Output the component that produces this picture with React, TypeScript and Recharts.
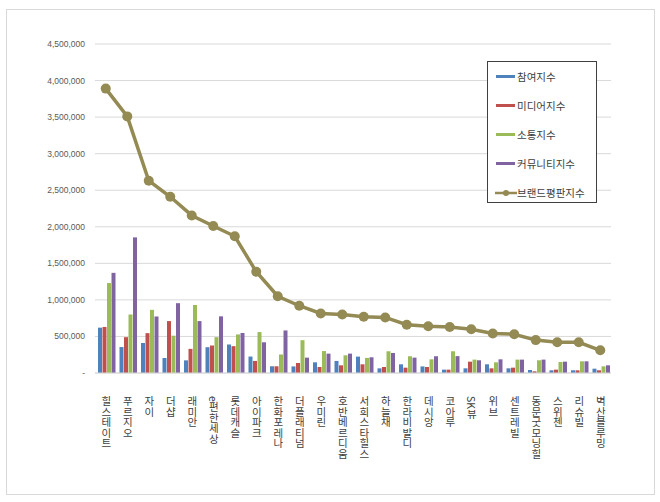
import { ComposedChart, Bar, Line, XAxis, YAxis, CartesianGrid } from 'recharts';

const categories = [
  '힐스테이트', '푸르지오', '자이', '더샵', '래미안', 'e편한세상', '롯데캐슬', '아이파크',
  '한화포레나', '더플래티넘', '우미린', '호반베르디움', '서희스타힐스', '하늘채', '한라비발디', '데시앙',
  '코아루', 'SK뷰', '위브', '센트레빌', '동문굿모닝힐', '스위첸', '리슈빌', '벽산블루밍',
];

const participation = [
  620000, 355000, 410000, 205000, 173000, 353000, 390000, 225000,
  92000, 90000, 146000, 165000, 224000, 64000, 119000, 90000,
  46000, 64000, 119000, 64000, 41000, 37000, 37000, 59000,
];

const media = [
  630000, 490000, 545000, 710000, 330000, 376000, 367000, 165000,
  92000, 137000, 82000, 105000, 119000, 82000, 73000, 82000,
  46000, 155000, 64000, 73000, 23000, 46000, 37000, 37000,
];

const communication = [
  1230000, 800000, 864000, 510000, 930000, 490000, 528000, 560000,
  253000, 449000, 300000, 242000, 206000, 297000, 229000, 187000,
  297000, 183000, 146000, 183000, 174000, 151000, 160000, 91000,
];

const community = [
  1370000, 1855000, 773000, 955000, 710000, 775000, 547000, 420000,
  582000, 210000, 265000, 265000, 215000, 274000, 210000, 229000,
  231000, 174000, 187000, 183000, 183000, 155000, 160000, 105000,
];

const brand = [
  3890000, 3510000, 2630000, 2410000, 2155000, 2010000, 1870000, 1385000,
  1050000, 920000, 815000, 800000, 770000, 760000, 660000, 640000,
  630000, 598000, 540000, 530000, 450000, 420000, 420000, 310000,
];

const yTicks = [0, 500000, 1000000, 1500000, 2000000, 2500000, 3000000, 3500000, 4000000, 4500000];

const SERIES = [
  { key: 'participation', name: '참여지수', color: '#4F81BD' },
  { key: 'media', name: '미디어지수', color: '#C0504D' },
  { key: 'communication', name: '소통지수', color: '#9BBB59' },
  { key: 'community', name: '커뮤니티지수', color: '#8064A2' },
];
const LINE_COLOR = '#948A54';
const FONT = '"Noto Sans CJK KR", "Noto Sans", sans-serif';

const data = categories.map((name, i) => ({
  name,
  participation: participation[i],
  media: media[i],
  communication: communication[i],
  community: community[i],
  brand: brand[i],
}));

// stacked vertical labels like Excel's vertical text
const CategoryTick = ({ x, y, payload }: any) => (
  <text
    x={x + 0.5}
    y={y + 15}
    textAnchor="start"
    fontSize={10.5}
    fill="#404040"
    fontFamily={FONT}
    style={{ writingMode: 'vertical-rl' }}
  >
    {payload.value}
  </text>
);

// legend drawn outside the chart so it doesn't eat plot space
const LegendBox = () => (
  <div
    style={{
      position: 'absolute',
      left: 487,
      top: 61,
      width: 110,
      height: 142,
      border: '1px solid #404040',
      background: '#fff',
      fontFamily: FONT,
      fontSize: 10.5,
      color: '#404040',
      boxSizing: 'border-box',
    }}
  >
    {SERIES.map((s) => (
      <div key={s.key} style={{ display: 'flex', alignItems: 'center', height: 29 }}>
        <span style={{ display: 'inline-block', width: 19, height: 3, background: s.color, marginLeft: 8, marginRight: 2 }} />
        <span>{s.name}</span>
      </div>
    ))}
    <div style={{ display: 'flex', alignItems: 'center', height: 29 }}>
      <svg width={22} height={8} style={{ marginLeft: 7 }}>
        <line x1={0} y1={4} x2={22} y2={4} stroke={LINE_COLOR} strokeWidth={2.5} />
        <circle cx={11} cy={4} r={3} fill={LINE_COLOR} />
      </svg>
      <span>브랜드평판지수</span>
    </div>
  </div>
);

const App = () => (
  <div style={{ position: 'absolute', left: 0, top: 0, width: 660, height: 502, background: '#fff' }}>
    <div
      style={{
        position: 'absolute',
        left: 6,
        top: 9,
        width: 647,
        height: 484,
        border: '1px solid #d9d9d9',
      }}
    />
    <ComposedChart
      width={660}
      height={502}
      data={data}
      margin={{ top: 44, right: 49, left: 0, bottom: 0 }}
      barCategoryGap={3}
      barGap={0.5}
    >
      <CartesianGrid vertical={false} stroke="#d9d9d9" />
      <XAxis
        dataKey="name"
        interval={0}
        height={129}
        tickLine={false}
        axisLine={{ stroke: '#d9d9d9' }}
        tick={<CategoryTick />}
      />
      <YAxis
        width={95}
        domain={[0, 4500000]}
        ticks={yTicks}
        axisLine={false}
        tickLine={false}
        tickMargin={4}
        tick={{ fontSize: 8.5, fill: '#595959', fontFamily: '"Liberation Sans", Arial, sans-serif' }}
        tickFormatter={(v: number) => (v === 0 ? '-' : v.toLocaleString('en-US'))}
      />
      {SERIES.map((s) => (
        <Bar key={s.key} dataKey={s.key} name={s.name} fill={s.color} isAnimationActive={false} />
      ))}
      <Line
        dataKey="brand"
        name="브랜드평판지수"
        stroke={LINE_COLOR}
        strokeWidth={3.5}
        dot={{ r: 5, fill: LINE_COLOR, stroke: 'none' }}
        isAnimationActive={false}
      />
    </ComposedChart>
    <LegendBox />
  </div>
);

export default App;
